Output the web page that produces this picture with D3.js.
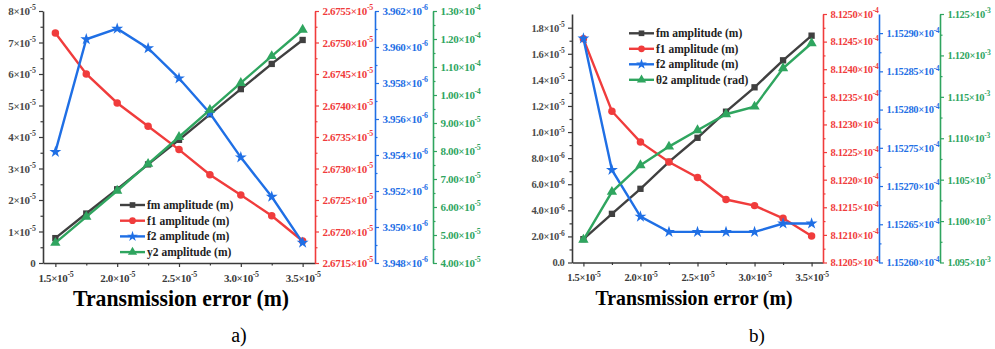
<!DOCTYPE html>
<html>
<head>
<meta charset="utf-8">
<script src="https://cdn.jsdelivr.net/npm/d3@7"></script>
<style>
  body { margin: 0; background: #fff; }
  text { font-family: "Liberation Serif", "Times New Roman", serif; font-weight: bold; }
</style>
</head>
<body>
<svg id="chart" width="995" height="349"></svg>
<script>
// x values shared by both panels (transmission error, m)
var xVals = [1.5e-5, 1.75e-5, 2.0e-5, 2.25e-5, 2.5e-5, 2.75e-5, 3.0e-5, 3.25e-5, 3.5e-5];
var xTicks = [1.5e-5, 2.0e-5, 2.5e-5, 3.0e-5, 3.5e-5];

// panel a)
var aFm = [0.79e-5, 1.57e-5, 2.34e-5, 3.13e-5, 3.91e-5, 4.72e-5, 5.52e-5, 6.32e-5, 7.08e-5];
var aF1 = [2.67515e-5, 2.67450e-5, 2.67404e-5, 2.67367e-5, 2.67330e-5, 2.67290e-5, 2.67258e-5, 2.67225e-5, 2.67185e-5];
var aF2 = [3.95417e-6, 3.96043e-6, 3.96102e-6, 3.95993e-6, 3.95826e-6, 3.95632e-6, 3.95387e-6, 3.95168e-6, 3.94913e-6];
var aY2 = [4.72e-5, 5.65e-5, 6.58e-5, 7.54e-5, 8.50e-5, 9.47e-5, 1.043e-4, 1.139e-4, 1.233e-4];
var aNames = ["fm amplitude (m)", "f1 amplitude (m)", "f2 amplitude (m)", "y2 amplitude (m)"];
var aLeftTicks = [0, 1e-5, 2e-5, 3e-5, 4e-5, 5e-5, 6e-5, 7e-5, 8e-5];
var aRedTicks = [2.6715e-5, 2.6720e-5, 2.6725e-5, 2.6730e-5, 2.6735e-5, 2.6740e-5, 2.6745e-5, 2.6750e-5, 2.6755e-5];
var aBlueTicks = [3.948e-6, 3.950e-6, 3.952e-6, 3.954e-6, 3.956e-6, 3.958e-6, 3.960e-6, 3.962e-6];
var aGreenTicks = [4e-5, 5e-5, 6e-5, 7e-5, 8e-5, 9e-5, 1.0e-4, 1.1e-4, 1.2e-4, 1.3e-4];

// panel b)
var bFm = [1.79e-6, 3.73e-6, 5.65e-6, 7.72e-6, 9.56e-6, 11.56e-6, 13.43e-6, 15.50e-6, 17.39e-6];
var bF1 = [8.12455e-4, 8.12324e-4, 8.12268e-4, 8.12232e-4, 8.12204e-4, 8.12164e-4, 8.12153e-4, 8.12130e-4, 8.12098e-4];
var bF2 = [1.152893e-4, 1.152721e-4, 1.152660e-4, 1.152640e-4, 1.152640e-4, 1.152640e-4, 1.152640e-4, 1.152651e-4, 1.152651e-4];
var bTheta2 = [1.09774e-3, 1.10353e-3, 1.10675e-3, 1.10899e-3, 1.11097e-3, 1.11290e-3, 1.11382e-3, 1.11845e-3, 1.12147e-3];
var bNames = ["fm amplitude (m)", "f1 amplitude (m)", "f2 amplitude (m)", "\u03b82 amplitude (rad)"];
var bLeftTicks = [0, 2e-6, 4e-6, 6e-6, 8e-6, 1.0e-5, 1.2e-5, 1.4e-5, 1.6e-5, 1.8e-5];
var bRedTicks = [8.1205e-4, 8.1210e-4, 8.1215e-4, 8.1220e-4, 8.1225e-4, 8.1230e-4, 8.1235e-4, 8.1240e-4, 8.1245e-4, 8.1250e-4];
var bBlueTicks = [1.15260e-4, 1.15265e-4, 1.15270e-4, 1.15275e-4, 1.15280e-4, 1.15285e-4, 1.15290e-4];
var bGreenTicks = [1.095e-3, 1.100e-3, 1.105e-3, 1.110e-3, 1.115e-3, 1.120e-3, 1.125e-3];

var cBlack = "#404040", cRed = "#f03c3c", cBlue = "#1f6fe5", cGreen = "#2fa55f";
var svg = d3.select("#chart");

function midpoints(t) {
  var m = [];
  for (var i = 0; i < t.length - 1; i++) m.push((t[i] + t[i + 1]) / 2);
  return m;
}

// "2.6755×10^-5" style label
function sciLabel(sel, v, dec, zeroText, fs) {
  if (v === 0) { sel.text(zeroText); return; }
  var exp = +v.toExponential(8).split("e")[1];
  var mant = (v / Math.pow(10, exp)).toFixed(dec);
  sel.text(mant + "\u00d710");
  sel.append("tspan").attr("dy", -fs * 0.42).attr("font-size", fs * 0.72).text(exp);
}

function drawAxis(g, axisFn, scale, pos, ticks, dec, zeroText, color, txtColor, fs, horizontal) {
  var ax = g.append("g")
    .attr("transform", horizontal ? "translate(0," + pos + ")" : "translate(" + pos + ",0)")
    .call(axisFn(scale).tickValues(ticks).tickSize(4).tickSizeOuter(0)
      .tickPadding(horizontal ? 7 : 3.5).tickFormat(""));
  ax.select(".domain").attr("stroke", color).attr("stroke-width", 1.6);
  ax.selectAll(".tick line").attr("stroke", color).attr("stroke-width", 1.2);
  ax.selectAll(".tick text")
    .attr("fill", txtColor).attr("font-size", fs)
    .style("letter-spacing", "-0.35px")
    .each(function (d) { sciLabel(d3.select(this), d, dec, zeroText, fs); });
  var mn = g.append("g")
    .attr("transform", horizontal ? "translate(0," + pos + ")" : "translate(" + pos + ",0)")
    .call(axisFn(scale).tickValues(midpoints(ticks)).tickSize(2.5).tickSizeOuter(0).tickFormat(""));
  mn.select(".domain").remove();
  mn.selectAll(".tick line").attr("stroke", color).attr("stroke-width", 1.2);
}

function drawPanel(p) {
  var g = svg.append("g");
  var x = d3.scaleLinear().domain([1.4e-5, 3.6e-5]).range([p.left, p.right]);
  var yL = d3.scaleLinear().domain(p.leftDomain).range([p.bottom, p.top]);
  var yR = d3.scaleLinear().domain(p.redDomain).range([p.bottom, p.top]);
  var yB = d3.scaleLinear().domain(p.blueDomain).range([p.bottom, p.top]);
  var yG = d3.scaleLinear().domain(p.greenDomain).range([p.bottom, p.top]);

  drawAxis(g, d3.axisBottom, x, p.bottom, xTicks, 1, "", "#3a3a3a", "#3a3a3a", p.fs, true);
  drawAxis(g, d3.axisLeft, yL, p.left, p.leftTicks, p.leftDec, p.leftZero, "#3a3a3a", "#4a4a4a", p.fs, false);
  drawAxis(g, d3.axisRight, yR, p.right, p.redTicks, 4, "", cRed, cRed, p.fs, false);
  drawAxis(g, d3.axisRight, yB, p.blueX, p.blueTicks, p.blueDec, "", cBlue, cBlue, p.fs, false);
  drawAxis(g, d3.axisRight, yG, p.greenX, p.greenTicks, p.greenDec, "", cGreen, cGreen, p.fs, false);

  var series = [
    { vals: p.fm, y: yL, color: cBlack, sym: d3.symbolSquare, size: 40 },
    { vals: p.f1, y: yR, color: cRed, sym: d3.symbolCircle, size: 44 },
    { vals: p.f2, y: yB, color: cBlue, sym: d3.symbolStar, size: 44 },
    { vals: p.s4, y: yG, color: cGreen, sym: d3.symbolTriangle, size: 46 }
  ];

  series.forEach(function (s) {
    var line = d3.line()
      .x(function (d, i) { return x(xVals[i]); })
      .y(function (d) { return s.y(d); });
    g.append("path").datum(s.vals)
      .attr("d", line).attr("fill", "none")
      .attr("stroke", s.color).attr("stroke-width", 2.4);
    g.selectAll(null).data(s.vals).enter().append("path")
      .attr("d", d3.symbol().type(s.sym).size(s.size))
      .attr("transform", function (d, i) { return "translate(" + x(xVals[i]) + "," + s.y(d) + ")"; })
      .attr("fill", s.color);
  });

  // legend
  var leg = g.append("g").attr("transform", "translate(" + p.legX + "," + p.legY + ")");
  series.forEach(function (s, i) {
    var row = leg.append("g").attr("transform", "translate(0," + i * p.legStep + ")");
    row.append("line").attr("x1", 0).attr("x2", 25).attr("stroke", s.color).attr("stroke-width", 2.4);
    row.append("path").attr("d", d3.symbol().type(s.sym).size(s.size * 0.8)).attr("transform", "translate(12.5,0)").attr("fill", s.color);
    row.append("text").attr("x", 27).attr("y", 4).attr("font-size", p.legFs).attr("fill", "#222").text(p.names[i]);
  });

  g.append("text").attr("x", p.titleX).attr("y", p.titleY)
    .attr("text-anchor", "middle").attr("font-size", p.titleFs)
    .attr("textLength", p.titleLen).attr("lengthAdjust", "spacingAndGlyphs")
    .attr("fill", "#000").text("Transmission error (m)");
  g.append("text").attr("x", p.tagX).attr("y", 342)
    .attr("text-anchor", "middle").attr("font-size", p.tagFs)
    .style("font-weight", "normal").attr("fill", "#000").text(p.tag);
}

drawPanel({
  left: 43, right: 315, top: 11, bottom: 263,
  blueX: 375, greenX: 433, fs: 11,
  leftDomain: [0, 8e-5], redDomain: [2.6715e-5, 2.6755e-5],
  blueDomain: [3.948e-6, 3.962e-6], greenDomain: [4e-5, 1.3e-4],
  leftTicks: aLeftTicks, redTicks: aRedTicks, blueTicks: aBlueTicks, greenTicks: aGreenTicks,
  leftDec: 0, leftZero: "0", blueDec: 3, greenDec: 2,
  fm: aFm, f1: aF1, f2: aF2, s4: aY2, names: aNames,
  legX: 120, legY: 205, legStep: 15.7, legFs: 11.5,
  titleX: 181, titleY: 306, titleFs: 24, titleLen: 216,
  tagX: 239, tagFs: 20, tag: "a)"
});

drawPanel({
  left: 572, right: 823, top: 14, bottom: 262.5,
  blueX: 879, greenX: 940, fs: 10.5,
  leftDomain: [0, 1.905e-5], redDomain: [8.1205e-4, 8.1250e-4],
  blueDomain: [1.15260e-4, 1.152925e-4], greenDomain: [1.095e-3, 1.125e-3],
  leftTicks: bLeftTicks, redTicks: bRedTicks, blueTicks: bBlueTicks, greenTicks: bGreenTicks,
  leftDec: 1, leftZero: "0.0", blueDec: 5, greenDec: 3,
  fm: bFm, f1: bF1, f2: bF2, s4: bTheta2, names: bNames,
  legX: 629, legY: 33.3, legStep: 15.5, legFs: 11.5,
  titleX: 694, titleY: 305, titleFs: 22, titleLen: 197,
  tagX: 757, tagFs: 19, tag: "b)"
});
</script>
</body>
</html>
